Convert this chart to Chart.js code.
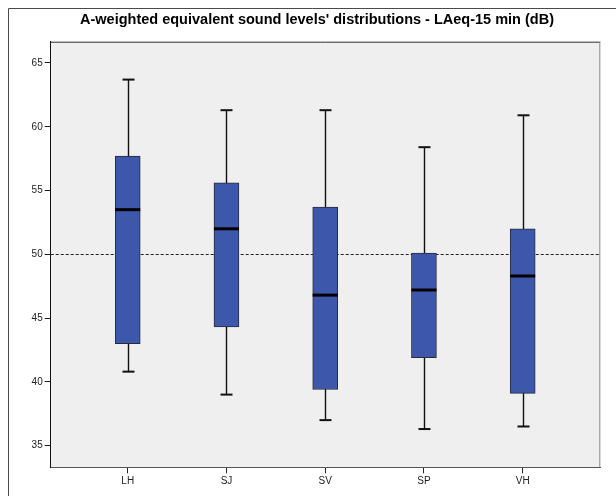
<!DOCTYPE html>
<html><head><meta charset="utf-8">
<script src="https://cdn.jsdelivr.net/npm/chart.js@4.4.1/dist/chart.umd.min.js"></script>
<style>html,body{margin:0;padding:0;background:#fff;overflow:hidden;}</style>
</head><body>
<canvas id="c" width="616" height="496" style="display:block;width:616px;height:496px"></canvas>
<script>
const categories = ['LH', 'SJ', 'SV', 'SP', 'VH'];
const whiskerLow  = [40.8, 39.0, 37.0, 36.3, 36.5];
const q1          = [43.0, 44.3, 39.4, 41.9, 39.1];
const median      = [53.5, 52.0, 46.8, 47.2, 48.3];
const q3          = [57.7, 55.6, 53.7, 50.1, 52.0];
const whiskerHigh = [63.7, 61.3, 61.3, 58.4, 60.9];
const yTicks = [35, 40, 45, 50, 55, 60, 65];
const referenceLevel = 50;
const titleText = "A-weighted equivalent sound levels' distributions - LAeq-15 min (dB)";

const boxData = categories.map((c, i) => ({ x: i + 1, y: [q1[i], q3[i]] }));

const extras = {
  id: 'boxExtras',
  beforeDraw(chart) {
    const { ctx, chartArea: a } = chart;
    ctx.save();
    ctx.fillStyle = '#ffffff';
    ctx.fillRect(0, 0, chart.width, chart.height);
    ctx.strokeStyle = '#4a4a4a';
    ctx.lineWidth = 1;
    ctx.beginPath();
    ctx.moveTo(8.5, 496); ctx.lineTo(8.5, 8.5); ctx.lineTo(616, 8.5);
    ctx.stroke();
    ctx.fillStyle = '#efefef';
    ctx.fillRect(a.left, a.top, a.right - a.left, a.bottom - a.top);
    // title
    ctx.fillStyle = '#000';
    ctx.font = "bold 14.5px 'Liberation Sans', Arial, sans-serif";
    ctx.textAlign = 'center';
    ctx.textBaseline = 'middle';
    ctx.fillText(titleText, 317, 20);
    ctx.restore();
  },
  beforeDatasetsDraw(chart) {
    const { ctx, chartArea: a, scales } = chart;
    const y = scales.y, x = scales.x;
    ctx.save();
    const ry = Math.round(y.getPixelForValue(referenceLevel)) + 0.5;
    ctx.strokeStyle = '#222';
    ctx.lineWidth = 1;
    ctx.setLineDash([3, 2]);
    ctx.beginPath(); ctx.moveTo(a.left, ry); ctx.lineTo(a.right, ry); ctx.stroke();
    ctx.setLineDash([]);
    categories.forEach((c, i) => {
      const px = Math.round(x.getPixelForValue(i + 1)) + 0.5;
      const yl = y.getPixelForValue(whiskerLow[i]);
      const yh = y.getPixelForValue(whiskerHigh[i]);
      ctx.strokeStyle = '#111';
      ctx.lineWidth = 1.4;
      ctx.beginPath(); ctx.moveTo(px, yl); ctx.lineTo(px, yh); ctx.stroke();
      ctx.lineWidth = 2;
      ctx.beginPath(); ctx.moveTo(px - 6, yl); ctx.lineTo(px + 6, yl); ctx.stroke();
      ctx.beginPath(); ctx.moveTo(px - 6, yh); ctx.lineTo(px + 6, yh); ctx.stroke();
    });
    ctx.restore();
  },
  afterDatasetsDraw(chart) {
    const { ctx, scales } = chart;
    const meta = chart.getDatasetMeta(0);
    ctx.save();
    ctx.strokeStyle = '#000';
    ctx.lineWidth = 3;
    categories.forEach((c, i) => {
      const bar = meta.data[i];
      const half = bar.width / 2;
      const my = scales.y.getPixelForValue(median[i]);
      ctx.beginPath(); ctx.moveTo(bar.x - half, my); ctx.lineTo(bar.x + half, my); ctx.stroke();
    });
    ctx.restore();
  },
  afterDraw(chart) {
    const { ctx, chartArea: a } = chart;
    ctx.save();
    ctx.lineWidth = 1;
    ctx.strokeStyle = '#333';
    ctx.beginPath(); ctx.moveTo(a.left, a.top + 0.5); ctx.lineTo(a.right, a.top + 0.5); ctx.stroke();
    ctx.strokeStyle = '#8a8a8a';
    ctx.beginPath(); ctx.moveTo(a.right - 0.5, a.top); ctx.lineTo(a.right - 0.5, a.bottom); ctx.stroke();
    ctx.restore();
  }
};

new Chart(document.getElementById('c'), {
  type: 'bar',
  data: {
    datasets: [{
      label: titleText,
      data: boxData,
      backgroundColor: '#3d58ab',
      borderColor: '#2a2a3a',
      borderWidth: 1,
      borderSkipped: false,
      barThickness: 25,
      grouped: false
    }]
  },
  options: {
    responsive: false,
    animation: false,
    devicePixelRatio: 1,
    layout: { padding: { left: 0, right: 15.7, top: 41.7, bottom: 0 } },
    plugins: {
      legend: { display: false },
      tooltip: { enabled: false },
      title: { display: false }
    },
    scales: {
      x: {
        type: 'linear',
        min: 0.22,
        max: 5.786,
        offset: false,
        afterFit: s => { s.height = 28.7; },
        afterBuildTicks: s => { s.ticks = categories.map((c, i) => ({ value: i + 1 })); },
        grid: { display: true, offset: false, drawOnChartArea: false, drawTicks: true, tickLength: 6, color: '#222', lineWidth: 1 },
        border: { display: true, color: '#555', width: 1 },
        ticks: {
          autoSkip: false,
          maxRotation: 0,
          padding: 2,
          color: '#222',
          font: { family: "'Liberation Sans', Arial, sans-serif", size: 10 },
          callback: (v, i) => categories[i]
        }
      },
      y: {
        type: 'linear',
        min: 33.3,
        max: 66.67,
        afterFit: s => { s.width = 50.7; },
        afterBuildTicks: s => { s.ticks = yTicks.map(v => ({ value: v })); },
        grid: { display: true, drawOnChartArea: false, drawTicks: true, tickLength: 6, color: '#222', lineWidth: 1 },
        border: { display: true, color: '#111', width: 1 },
        ticks: {
          padding: 2,
          color: '#222',
          font: { family: "'Liberation Sans', Arial, sans-serif", size: 10 },
          callback: (v, i) => String(yTicks[i])
        }
      }
    }
  },
  plugins: [extras]
});
</script>
</body></html>
